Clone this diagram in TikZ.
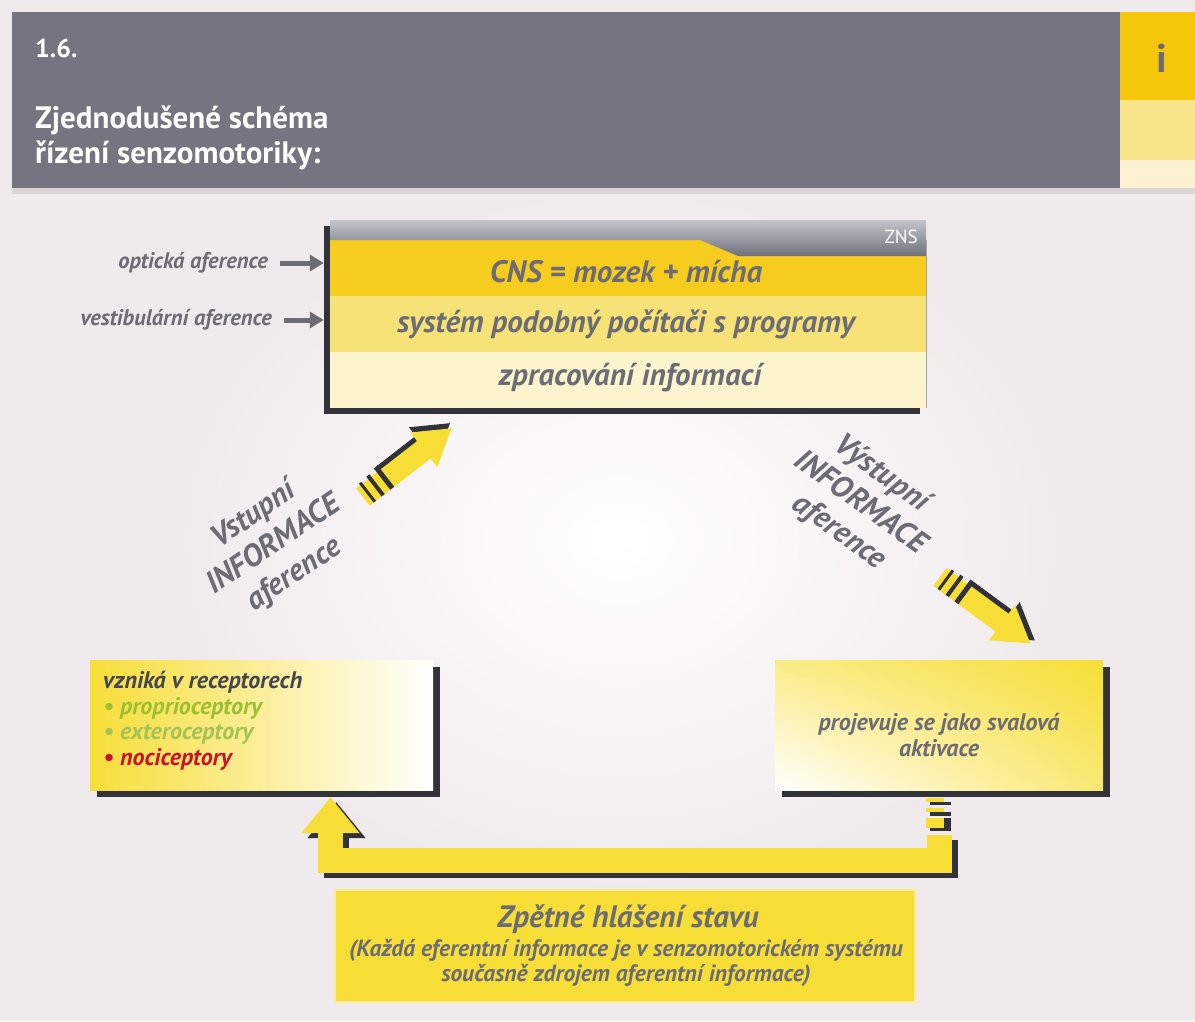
\documentclass[tikz,border=0pt]{standalone}
\usepackage{fontspec}
\setmainfont{PT Sans}
\usetikzlibrary{arrows.meta,shadings}

\definecolor{pagebg}{RGB}{241,234,236}
\definecolor{hdrgray}{RGB}{118,116,128}
\definecolor{txtgray}{RGB}{108,108,118}
\definecolor{darkgray}{RGB}{50,50,58}
\definecolor{zyel}{RGB}{246,204,30}
\definecolor{myel}{RGB}{247,226,120}
\definecolor{lyel}{RGB}{252,244,205}
\definecolor{ayel}{RGB}{247,222,55}
\definecolor{sgold}{RGB}{246,198,10}
\definecolor{sside}{RGB}{249,228,140}
\definecolor{spale}{RGB}{252,241,208}
\definecolor{pgreen}{RGB}{155,192,50}
\definecolor{egreen}{RGB}{165,195,85}
\definecolor{nred}{RGB}{200,20,40}

\tikzset{
  every node/.style={inner sep=0pt},
  boxtxt/.style={text=txtgray,font=\fontsize{31}{34}\selectfont\bfseries\itshape},
  sidetxt/.style={text=txtgray,font=\fontsize{22.5}{24}\selectfont\bfseries\itshape},
  smalltxt/.style={font=\fontsize{24}{25.7}\selectfont\bfseries\itshape},
  rottxt/.style={text=txtgray,align=center,font=\fontsize{31}{36}\selectfont\bfseries\itshape},
  titletxt/.style={anchor=base west,text=white,font=\fontsize{31}{35}\selectfont\bfseries},
  grayarr/.style={draw=txtgray,line width=5pt,-{Triangle[length=14pt,width=16pt]}},
  fbarrow/.style={line width=25pt,-{Triangle[length=36pt,width=56pt]}}
}

\begin{document}
\begin{tikzpicture}[x=1pt,y=-1pt]
\useasboundingbox (0,0) rectangle (1195,1021);
% page
\fill[pagebg] (0,0) rectangle (1195,1021);
\shade[inner color=white,outer color=pagebg] (620,540) ellipse (440 and 350);

% header
\fill[hdrgray] (12,12) rectangle (1120,188);
\fill[sgold] (1120,12) rectangle (1195,100);
\fill[sside] (1120,100) rectangle (1195,160);
\fill[spale] (1120,160) rectangle (1195,188);
\fill[pagebg!80!gray] (12,188) rectangle (1195,194);
\node[titletxt,font=\fontsize{26}{26}\selectfont\bfseries] (nr) at (35,57) {1.6.};
\node[titletxt] (title) at (35,128) {Zjednodušené schéma};
\node[titletxt] (title2) at (35,163) {řízení senzomotoriky:};
\node[text=txtgray,font=\fontsize{40}{40}\selectfont\bfseries] (info) at (1162,58) {i};

% ZNS box
\fill[darkgray] (324,226) rectangle (920,414);
\fill[zyel] (330,238) rectangle (926,296);
\fill[myel] (330,296) rectangle (926,352);
\fill[lyel] (330,352) rectangle (926,408);
\shade[top color={rgb,255:red,196;green,196;blue,204},bottom color={rgb,255:red,112;green,112;blue,124}]
  (330,220) -- (926,220) -- (926,256) -- (738,256) -- (700,240) -- (330,240) -- cycle;
\draw[gray!70] (926,240) -- (926,408);
\node[minimum width=596,minimum height=188] (zns) at (628,314) {};
\node[anchor=east,text=white,font=\fontsize{19}{19}\selectfont] (znslab) at (918,237) {ZNS};
\node[boxtxt] (cns) at (626,272) {CNS = mozek + mícha};
\node[boxtxt] (prog) at (626,324) {systém podobný počítači s programy};
\node[boxtxt] (zprac) at (630,378) {zpracování informací};

% afference labels
\node[sidetxt,anchor=east] (opt) at (268,263) {optická aference};
\node[sidetxt,anchor=east] (vest) at (272,320) {vestibulární aference};
\draw[grayarr] ([xshift=12pt]opt.east) -- ([xshift=-6pt]opt.east -| zns.west);
\draw[grayarr] ([xshift=12pt]vest.east) -- ([xshift=-6pt]vest.east -| zns.west);

% receptor box
\fill[darkgray] (97,667) rectangle (440,797);
\shade[upper left=ayel,lower left=ayel,upper right=white,lower right=white] (90,660) rectangle (433,790);
\node[minimum width=343,minimum height=130] (rec) at (261.5,725) {};
\node[smalltxt,anchor=north west,align=left] (rectxt) at (103,671) {%
  \textcolor{darkgray!90}{vzniká v receptorech}\\
  \textcolor{pgreen}{• proprioceptory}\\
  \textcolor{egreen}{• exteroceptory}\\
  \textcolor{nred}{• nociceptory}};

% activation box
\fill[darkgray] (782,667) rectangle (1110,797);
\shade[upper left=ayel!60!white,upper right=ayel,lower left=white,lower right=ayel!70!white] (775,660) rectangle (1103,790);
\node[minimum width=328,minimum height=130] (akt) at (939,725) {};
\node[smalltxt,text=txtgray,align=center] (akttxt) at (939,735) {projevuje se jako svalová\\aktivace};

% feedback arrow
\coordinate (fbr) at ([yshift=-45pt]akt.south);
\coordinate (fbl) at ([xshift=69pt,yshift=-7pt]rec.south);
\draw[fbarrow,darkgray,transform canvas={xshift=6pt,yshift=-5pt}] (fbr) -- ++(0,25) -| (fbl);
\draw[fbarrow,ayel] (fbr) -- ++(0,25) -| (fbl);
\fill[ayel] (926,798) rectangle (944,802);
\fill[darkgray] (930,802) rectangle (951,805);
\fill[ayel] (926,808) rectangle (944,812);
\fill[darkgray] (930,812) rectangle (951,816);
\fill[ayel] (926,818) rectangle (944,828);
\fill[darkgray] (944,818) rectangle (951,831);
\fill[darkgray] (930,828) rectangle (951,831);

% fat diagonal arrows
\coordinate (inA) at (363,497);
\coordinate (outA) at (940,577);
\foreach \p/\a in {inA/37.8,outA/-36.3}{
  \begin{scope}[shift={(\p)},rotate=\a]
    \fill[darkgray] (30,-16) -- (79,-16) -- (79,-27) -- (114,-5) -- (79,17) -- (79,6) -- (30,6) -- cycle;
    \fill[ayel] (0,-11) -- (77,-11) -- (77,-22) -- (112,0) -- (77,22) -- (77,11) -- (0,11) -- cycle;
    \fill[darkgray] (5,-13) rectangle (8,11);
    \fill[darkgray] (15,-14) rectangle (19,11);
    \fill[darkgray] (26,-16) rectangle (31,11);
  \end{scope}
}
\node[rottxt,rotate=34] (vstup) at (274,545) {Vstupní\\INFORMACE\\aference};
\node[rottxt,rotate=-36] (vystup) at (860,503) {Výstupní\\INFORMACE\\aference};

% feedback box
\node[fill=ayel,draw={rgb,255:red,250;green,236;blue,150},line width=2.5pt,minimum width=580,minimum height=112] (zpet) at (625,946) {};
\node[text=txtgray,font=\fontsize{31}{34}\selectfont\bfseries\itshape] (zpettit) at (628,919) {Zpětné hlášení stavu};
\node[text=txtgray,align=center,font=\fontsize{23.5}{25}\selectfont\bfseries\itshape] (zpettxt) at (626,963) {(Každá eferentní informace je v senzomotorickém systému\\současně zdrojem aferentní informace)};
\end{tikzpicture}
\end{document}
